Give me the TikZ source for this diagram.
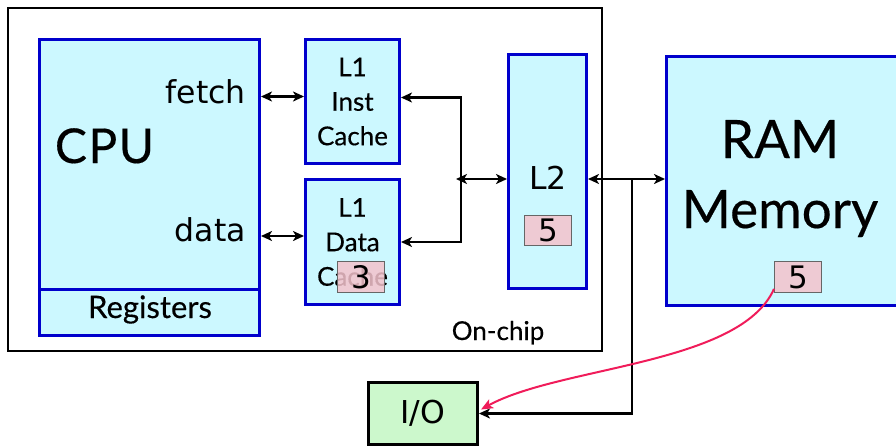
\documentclass[tikz,border=0pt]{standalone}
\usepackage{fontspec}
\usetikzlibrary{arrows.meta,calc}
\newfontfamily\biofont{Lato}[FakeBold=0.35]
\newfontfamily\dvfont{DejaVu Sans}
\definecolor{boxblue}{HTML}{0000CC}
\definecolor{boxcyan}{HTML}{CCF8FF}
\definecolor{boxgreen}{HTML}{CCF8CC}
\definecolor{boxpink}{HTML}{F4C2CC}
\definecolor{curvered}{HTML}{F01C5A}
\tikzset{
  unitbox/.style={draw=boxblue, line width=3pt, fill=boxcyan, inner sep=0pt, anchor=north west},
  pinkbox/.style={draw=black!60, line width=0.9pt, fill=boxpink, fill opacity=0.85, text opacity=1, inner sep=0pt, anchor=north west, font=\dvfont\fontsize{31}{32}\selectfont},
  conn/.style={line width=2.8pt, -{Stealth[length=11pt,width=10pt,inset=3pt]}},
  biconn/.style={line width=2.8pt, {Stealth[length=11pt,width=10pt,inset=3pt]}-{Stealth[length=11pt,width=10pt,inset=3pt]}},
  redconn/.style={draw=curvered, line width=2pt, -{Stealth[length=12pt,width=10pt,inset=3pt]}},
  biotext/.style={inner sep=0pt, font=\biofont\fontsize{26}{34.5}\selectfont},
  dvtext/.style={inner sep=0pt, font=\dvfont\fontsize{31.5}{33}\selectfont}
}
\begin{document}
\begin{tikzpicture}[x=1pt,y=-1pt]
\useasboundingbox (0,0) rectangle (896,445);
\clip (0,0) rectangle (896,445);
% on-chip frame
\node[draw=black, line width=2pt, minimum width=594pt, minimum height=343pt, anchor=north west, inner sep=0pt] (chip) at (7,7) {};
\node[biotext, anchor=base] (onchip) at (498,340) {On-chip};
% CPU
\node[unitbox, minimum width=220pt, minimum height=250pt] (cpu) at (38,38) {};
\node[unitbox, minimum width=220pt, minimum height=46pt] (reg) at (38,288) {};
\node[inner sep=0pt, anchor=base, font=\biofont\fontsize{48}{50}\selectfont] (cpulbl) at (104.5,163) {C\kern1.5pt P\kern1.5pt U};
\node[inner sep=0pt, anchor=base, font=\biofont\fontsize{31}{33}\selectfont] (reglbl) at (150,318) {Registers};
\node[dvtext, anchor=base east] (fetch) at (246,103) {fetch};
\node[dvtext, anchor=base east] (data) at (246,241) {data};
% L1 caches
\node[unitbox, minimum width=94pt, minimum height=124pt, biotext, align=center] (l1i) at (304,38) {L1\\Inst\\Cache};
\node[unitbox, minimum width=94pt, minimum height=125pt, biotext, align=center] (l1d) at (304,178) {L1\\Data\\Cache};
\node[pinkbox, minimum width=47pt, minimum height=31pt] (three) at (337,261) {3};
% L2
\node[unitbox, minimum width=78pt, minimum height=234pt] (l2) at (507,53) {};
\node[dvtext, anchor=base] (l2lbl) at (548,189) {L2};
\node[pinkbox, minimum width=47pt, minimum height=30pt] (fivel2) at (524,215) {5};
% RAM
\node[unitbox, minimum width=250pt, minimum height=249pt] (ram) at (665,55) {};
\node[inner sep=0pt, anchor=base, font=\biofont\fontsize{53}{56}\selectfont] (ramlbl) at (780,158) {RAM};
\node[inner sep=0pt, anchor=base, font=\biofont\fontsize{53}{56}\selectfont] (memlbl) at (780,228) {Memory};
\node[pinkbox, minimum width=47pt, minimum height=31pt] (fiveram) at (774,261) {5};
% I/O
\node[draw=black, line width=3pt, fill=boxgreen, minimum width=109pt, minimum height=62pt, anchor=north west, inner sep=0pt, dvtext] (io) at (367,381) {I/O};
% connectors
\coordinate (fa) at ([yshift=5pt]l1i.west);
\coordinate (da) at ([yshift=6pt]l1d.west);
\draw[biconn] (cpu.east |- fa) -- (fa);
\draw[biconn] (cpu.east |- da) -- (da);
\coordinate (bus) at (461,179);
\draw[conn] (bus) |- ([yshift=4pt]l1i.east);
\draw[conn] (bus) |- (l1d.east);
\draw[biconn] ([xshift=-5pt]bus) -- (l2.west |- bus);
\draw[biconn] (l2.east |- bus) -- (ram.west |- bus);
\coordinate (tap) at (632,179);
\draw[conn] (tap) |- (io.east);
\draw[redconn] ([yshift=4pt]fiveram.south west) .. controls (740,365) and (560,366) .. ([yshift=4pt,xshift=2pt]io.east);
\end{tikzpicture}
\end{document}
